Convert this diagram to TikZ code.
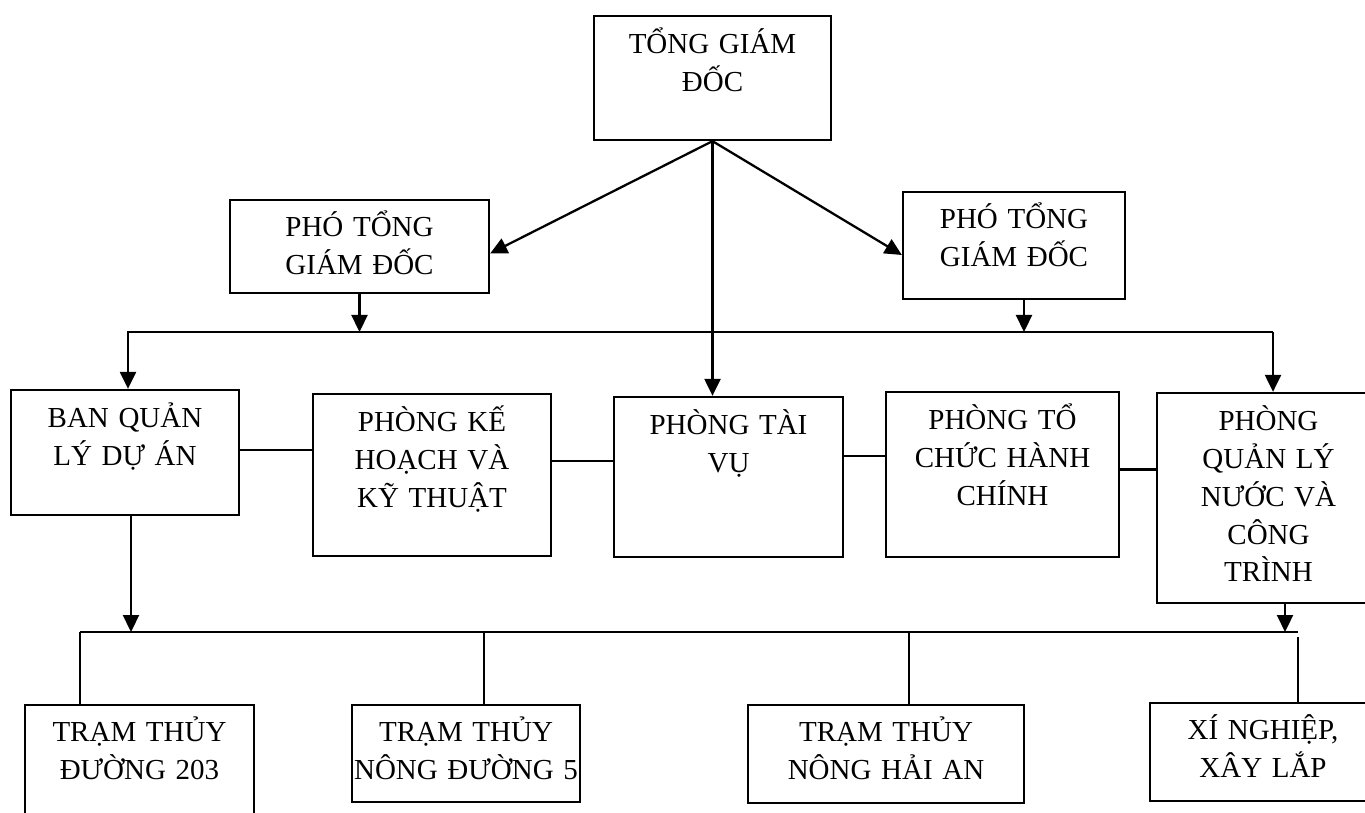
\documentclass[tikz,border=0pt]{standalone}
\usepackage{fontspec}
\setmainfont{Liberation Serif}
\usetikzlibrary{arrows.meta,fit,positioning}

\tikzset{
  orgbox/.style={draw, inner sep=0pt},
  orgtext/.style={anchor=base, align=center, text width=5cm, inner sep=0pt,
    font=\fontsize{16.5}{21.5}\selectfont},
}

\begin{document}
\begin{tikzpicture}[>={Triangle[length=0.34cm,width=0.32cm]}, x=0.02cm, y=-0.02cm, line width=1.3pt]

    \useasboundingbox (0,0) rectangle (1365,813);

    % boxes
    \node[orgbox, fit={(594,16) (831,140)}] (tgd) {};
    \node[orgbox, fit={(230,200) (489,293)}] (pgdl) {};
    \node[orgbox, fit={(903,192) (1125,299)}] (pgdr) {};

    \node[orgbox, fit={(11,390) (239,515)}] (bql) {};
    \node[orgbox, fit={(313,394) (551,556)}] (pkh) {};
    \node[orgbox, fit={(614,397) (843,557)}] (ptv) {};
    \node[orgbox, fit={(886,392) (1119,557)}] (ptc) {};
    \node[orgbox, fit={(1157,393) (1380,603)}] (pql) {};

    \node[orgbox, fit={(25,705) (254,840)}] (tt203) {};
    \node[orgbox, fit={(352,705) (580,802)}] (ttnd) {};
    \node[orgbox, fit={(748,705) (1024,803)}] (ttha) {};
    \node[orgbox, fit={(1150,703) (1376,801)}] (xn) {};

    % texts
    \node[orgtext] (tgd-t) at ([yshift=-0.78cm]tgd.north) {TỔNG GIÁM\\ĐỐC};
    \node[orgtext] (pgdl-t) at ([yshift=-0.76cm]pgdl.north) {PHÓ TỔNG\\GIÁM ĐỐC};
    \node[orgtext] (pgdr-t) at ([yshift=-0.76cm]pgdr.north) {PHÓ TỔNG\\GIÁM ĐỐC};
    \node[orgtext] (bql-t) at ([yshift=-0.78cm]bql.north) {BAN QUẢN\\LÝ DỰ ÁN};
    \node[orgtext] (pkh-t) at ([yshift=-0.78cm]pkh.north) {PHÒNG KẾ\\HOẠCH VÀ\\KỸ THUẬT};
    \node[orgtext] (ptv-t) at ([yshift=-0.78cm]ptv.north) {PHÒNG TÀI\\VỤ};
    \node[orgtext] (ptc-t) at ([yshift=-0.78cm]ptc.north) {PHÒNG TỔ\\CHỨC HÀNH\\CHÍNH};
    \node[orgtext] (pql-t) at ([yshift=-0.78cm]pql.north) {PHÒNG\\QUẢN LÝ\\NƯỚC VÀ\\CÔNG\\TRÌNH};
    \node[orgtext] (tt203-t) at ([yshift=-0.76cm]tt203.north) {TRẠM THỦY\\ĐƯỜNG 203};
    \node[orgtext] (ttnd-t) at ([yshift=-0.76cm]ttnd.north) {TRẠM THỦY\\NÔNG ĐƯỜNG 5};
    \node[orgtext] (ttha-t) at ([yshift=-0.76cm]ttha.north) {TRẠM THỦY\\NÔNG HẢI AN};
    \node[orgtext] (xn-t) at ([yshift=-0.76cm]xn.north) {XÍ NGHIỆP,\\XÂY LẮP};

    % bus lines
    \coordinate (topL) at (128,332);
    \coordinate (topR) at (1273,332);
    \coordinate (botL) at (80,632);
    \coordinate (botR) at (1298,632);

    % from the director
    \draw[->] (tgd.south) -- ([yshift=-0.14cm]pgdl.east);
    \draw[->] (tgd.south) -- ([yshift=-0.19cm]pgdr.west);
    \draw[->] (tgd.south) -- (tgd.south |- ptv.north);

    % deputies to the departments
    \draw[->] (pgdl.south) -- (pgdl.south |- topL);
    \draw[->] ([xshift=0.2cm]pgdr.south) -- ([xshift=0.2cm]pgdr.south |- topR);
    \draw[->] (topR) -- (topL) -- (topL |- bql.north);
    \draw[->] (topR) -- (topR |- pql.north);

    % departments side by side
    \draw ([yshift=0.05cm]bql.east) -- ([yshift=0.05cm]bql.east -| pkh.west);
    \draw ([yshift=0.28cm]pkh.east) -- ([yshift=0.28cm]pkh.east -| ptv.west);
    \draw ([yshift=0.42cm]ptv.east) -- ([yshift=0.42cm]ptv.east -| ptc.west);
    \draw ([yshift=0.1cm]ptc.east) -- ([yshift=0.1cm]ptc.east -| pql.west);

    % down to the stations
    \draw[->] ([xshift=0.12cm]bql.south) -- ([xshift=0.12cm]bql.south |- botL);
    \draw[->] ([xshift=0.33cm]pql.south) -- ([xshift=0.33cm]pql.south |- botL);
    \draw (botL) -- (botR);
    \draw (botL) -- (botL |- tt203.north);
    \draw ([xshift=0.36cm]ttnd.north) -- ([xshift=0.36cm]ttnd.north |- botL);
    \draw ([xshift=0.46cm]ttha.north) -- ([xshift=0.46cm]ttha.north |- botL);
    \draw ([yshift=-0.1cm]botR) -- (botR |- xn.north);

\end{tikzpicture}
\end{document}
